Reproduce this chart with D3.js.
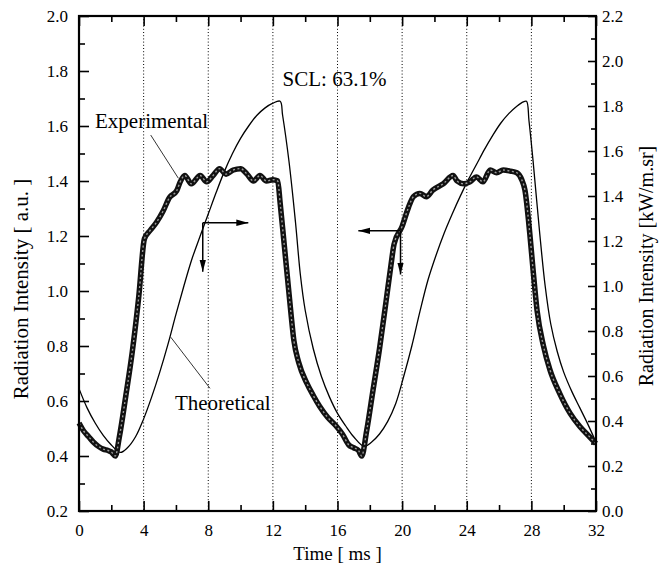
<!DOCTYPE html>
<html>
<head>
<meta charset="utf-8">
<script src="https://cdn.jsdelivr.net/npm/d3@7"></script>
<style>
  body { margin: 0; background: #fff; }
  svg { font-family: "Liberation Serif", "Times New Roman", serif; }
</style>
</head>
<body>
<svg id="chart"></svg>
<script>
// experimental signal (left axis, a.u.)
const expTime = [0, 0.3, 0.6, 0.9, 1.2, 1.5, 1.8, 2.0, 2.25, 2.5, 2.9, 3.3, 3.7, 4.05, 4.4, 4.8, 5.2, 5.6, 6.05, 6.25, 6.55, 6.95,
  7.5, 7.9, 8.3, 8.7, 9.1, 9.55, 10.0, 10.4, 10.8, 11.2, 11.6, 12.0, 12.3, 12.45, 12.7, 12.9, 13.1, 13.3, 13.6, 14.1, 14.5,
  14.9, 15.4, 15.9, 16.3, 16.7, 17.0, 17.3, 17.5, 17.8, 18.2, 18.6, 19.0, 19.3, 19.5, 20.0, 20.4, 20.7, 21.1, 21.5, 21.9,
  22.55, 23.15, 23.4, 23.8, 24.2, 24.6, 25.0, 25.45, 25.85, 26.25, 26.7, 27.1, 27.4, 27.6, 27.9, 28.1, 28.35, 28.75, 29.15,
  29.75, 30.4, 31.0, 31.6, 32.0];
const expValue = [0.52, 0.49, 0.47, 0.45, 0.435, 0.425, 0.42, 0.415, 0.40, 0.47, 0.62, 0.78, 0.98, 1.19, 1.22, 1.25, 1.29, 1.34, 1.365, 1.395, 1.42, 1.39,
  1.42, 1.397, 1.42, 1.445, 1.425, 1.44, 1.445, 1.425, 1.40, 1.42, 1.40, 1.405, 1.40, 1.32, 1.17, 1.05, 0.93, 0.82, 0.74, 0.665, 0.62,
  0.58, 0.54, 0.51, 0.48, 0.44, 0.43, 0.42, 0.40, 0.49, 0.64, 0.79, 0.96, 1.09, 1.17, 1.235, 1.305, 1.343, 1.355, 1.343, 1.367,
  1.39, 1.42, 1.40, 1.39, 1.397, 1.415, 1.397, 1.44, 1.43, 1.44, 1.436, 1.43, 1.405, 1.367, 1.21, 1.08, 0.93, 0.80, 0.713,
  0.628, 0.555, 0.507, 0.47, 0.445];

// theoretical signal (drawn on the same frame)
const theoTime = [0, 0.5, 1.0, 1.5, 2.0, 2.55, 3.0, 3.5, 4.0, 4.5, 5.0, 5.5, 6.0, 6.5, 7.0, 7.5, 8.0, 8.5, 9.0, 9.5, 10.0,
  10.5, 11.0, 11.5, 12.0, 12.45, 12.6, 13.0, 13.4, 13.7, 14.0, 14.5, 15.0, 15.5, 16.0, 16.5, 17.0, 17.65,
  18.1, 18.6, 19.1, 19.6, 20.1, 20.6, 21.1, 21.6, 22.1, 22.6, 23.1, 23.6, 24.1, 24.6, 25.1, 25.6, 26.1, 26.6, 27.1,
  27.5, 27.7, 27.85, 28.1, 28.5, 28.85, 29.2, 29.6, 30.0, 30.5, 31.0, 31.5, 32.0];
const theoValue = [0.645, 0.575, 0.52, 0.475, 0.44, 0.413, 0.43, 0.47, 0.535, 0.615, 0.705, 0.805, 0.915, 1.02, 1.118, 1.20, 1.28,
  1.36, 1.435, 1.50, 1.555, 1.60, 1.638, 1.665, 1.683, 1.69, 1.64, 1.47, 1.25, 1.06, 0.93, 0.79, 0.69, 0.615, 0.555, 0.51, 0.47, 0.435,
  0.45, 0.48, 0.525, 0.59, 0.69, 0.80, 0.925, 1.04, 1.13, 1.21, 1.28, 1.345, 1.405, 1.46, 1.515, 1.565, 1.61, 1.645, 1.672,
  1.688, 1.69, 1.62, 1.476, 1.22, 1.02, 0.88, 0.78, 0.705, 0.635, 0.575, 0.515, 0.45];

const xMajor = [0, 4, 8, 12, 16, 20, 24, 28, 32];
const xMinor = [2, 6, 10, 14, 18, 22, 26, 30];
const gridTimes = [4, 8, 12, 16, 20, 24, 28];
const leftMajor = [0.2, 0.4, 0.6, 0.8, 1.0, 1.2, 1.4, 1.6, 1.8, 2.0];
const leftMinor = [0.3, 0.5, 0.7, 0.9, 1.1, 1.3, 1.5, 1.7, 1.9];
const rightMajor = [0.0, 0.2, 0.4, 0.6, 0.8, 1.0, 1.2, 1.4, 1.6, 1.8, 2.0, 2.2];
const rightMinor = [0.1, 0.3, 0.5, 0.7, 0.9, 1.1, 1.3, 1.5, 1.7, 1.9, 2.1];

// labels and arrows, placed in data units (time, left-axis value)
const labels = [
  { text: 'Experimental', t: 0.99, v: 1.594 },
  { text: 'Theoretical', t: 5.94, v: 0.567 },
  { text: 'SCL: 63.1%', t: 12.6, v: 1.745 }
];
const leaders = [
  { t1: 4.44, v1: 1.567, t2: 6.15, v2: 1.41 },
  { t1: 5.68, v1: 0.832, t2: 8.11, v2: 0.646 }
];
const arrows = [
  { t: 7.66, v: 1.248, tEnd: 10.48, vEnd: 1.07 },
  { t: 19.9, v: 1.219, tEnd: 17.29, vEnd: 1.06 }
];

const width = 660, height = 572;
const margin = { top: 16, right: 64, bottom: 61, left: 79 };
const innerW = width - margin.left - margin.right;
const innerH = height - margin.top - margin.bottom;

const svg = d3.select('#chart').attr('width', width).attr('height', height);
svg.append('rect').attr('width', width).attr('height', height).attr('fill', '#fff');

svg.append('defs').append('marker')
  .attr('id', 'head')
  .attr('viewBox', '0 0 12 8')
  .attr('refX', 12).attr('refY', 4)
  .attr('markerWidth', 12).attr('markerHeight', 8)
  .attr('markerUnits', 'userSpaceOnUse')
  .attr('orient', 'auto')
  .append('path').attr('d', 'M0,0.8 L12,4 L0,7.2 Z').attr('fill', '#000');

const g = svg.append('g').attr('transform', `translate(${margin.left},${margin.top})`);

const x = d3.scaleLinear().domain([0, 32]).range([0, innerW]);
const yL = d3.scaleLinear().domain([0.2, 2.0]).range([innerH, 0]);
const yR = d3.scaleLinear().domain([0, 2.2]).range([innerH, 0]);

// dotted grid
g.selectAll('.grid').data(gridTimes).join('line')
  .attr('x1', d => x(d)).attr('x2', d => x(d))
  .attr('y1', 0).attr('y2', innerH)
  .attr('stroke', '#000').attr('stroke-width', 1)
  .attr('stroke-dasharray', '1,2.2');

function addAxis(axis, transform, fontSize) {
  const a = g.append('g').attr('transform', transform).call(axis);
  a.select('.domain').remove();
  a.selectAll('line').attr('stroke', '#000').attr('stroke-width', 1.6);
  a.selectAll('text').attr('fill', '#000').style('font-size', fontSize + 'px')
    .style('font-family', '"Liberation Serif", "Times New Roman", serif');
  return a;
}

const fmt = d3.format('.1f');
addAxis(d3.axisBottom(x).tickValues(xMajor).tickSizeInner(-10).tickSizeOuter(0).tickPadding(13).tickFormat(d3.format('d')),
  `translate(0,${innerH})`, 17);
addAxis(d3.axisBottom(x).tickValues(xMinor).tickSizeInner(-6).tickSizeOuter(0).tickFormat(''), `translate(0,${innerH})`, 17);
addAxis(d3.axisTop(x).tickValues(xMajor).tickSizeInner(-10).tickSizeOuter(0).tickFormat(''), 'translate(0,0)', 17);
addAxis(d3.axisTop(x).tickValues(xMinor).tickSizeInner(-6).tickSizeOuter(0).tickFormat(''), 'translate(0,0)', 17);
addAxis(d3.axisLeft(yL).tickValues(leftMajor).tickSizeInner(-10).tickSizeOuter(0).tickPadding(11).tickFormat(fmt), 'translate(0,0)', 17);
addAxis(d3.axisLeft(yL).tickValues(leftMinor).tickSizeInner(-6).tickSizeOuter(0).tickFormat(''), 'translate(0,0)', 17);
addAxis(d3.axisRight(yR).tickValues(rightMajor).tickSizeInner(-8).tickSizeOuter(0).tickPadding(6).tickFormat(fmt), `translate(${innerW},0)`, 17);
addAxis(d3.axisRight(yR).tickValues(rightMinor).tickSizeInner(-5).tickSizeOuter(0).tickFormat(''), `translate(${innerW},0)`, 17);

// curves
const lineExp = d3.line().x((d, i) => x(expTime[i])).y(d => yL(d)).curve(d3.curveMonotoneX);
const lineTheo = d3.line().x((d, i) => x(theoTime[i])).y(d => yL(d)).curve(d3.curveCatmullRom.alpha(0.5));

g.append('path').datum(theoValue).attr('d', lineTheo)
  .attr('fill', 'none').attr('stroke', '#000').attr('stroke-width', 1.3);

g.append('path').datum(expValue).attr('d', lineExp)
  .attr('fill', 'none').attr('stroke', '#111').attr('stroke-width', 5.5).attr('stroke-linejoin', 'round');
g.append('path').datum(expValue).attr('d', lineExp)
  .attr('fill', 'none').attr('stroke', '#9a9a9a').attr('stroke-width', 1.4).attr('stroke-dasharray', '2,2.5');

// frame
g.append('rect').attr('width', innerW).attr('height', innerH)
  .attr('fill', 'none').attr('stroke', '#000').attr('stroke-width', 2.2);

// annotations
g.selectAll('.leader').data(leaders).join('line')
  .attr('x1', d => x(d.t1)).attr('y1', d => yL(d.v1))
  .attr('x2', d => x(d.t2)).attr('y2', d => yL(d.v2))
  .attr('stroke', '#000').attr('stroke-width', 0.8);

arrows.forEach(d => {
  g.append('line')
    .attr('x1', x(d.t)).attr('y1', yL(d.v)).attr('x2', x(d.tEnd)).attr('y2', yL(d.v))
    .attr('stroke', '#000').attr('stroke-width', 1.5).attr('marker-end', 'url(#head)');
  g.append('line')
    .attr('x1', x(d.t)).attr('y1', yL(d.v)).attr('x2', x(d.t)).attr('y2', yL(d.vEnd))
    .attr('stroke', '#000').attr('stroke-width', 1.5).attr('marker-end', 'url(#head)');
});

g.selectAll('.note').data(labels).join('text')
  .attr('x', d => x(d.t)).attr('y', d => yL(d.v))
  .style('font-size', '21px').attr('fill', '#000')
  .text(d => d.text);

// axis titles
svg.append('text')
  .attr('x', margin.left + innerW / 2).attr('y', 560)
  .attr('text-anchor', 'middle').style('font-size', '19px')
  .text('Time [ ms ]');

svg.append('text')
  .attr('transform', 'translate(27.5,289) rotate(-90)')
  .attr('text-anchor', 'middle').style('font-size', '21px')
  .text('Radiation Intensity [ a.u. ]');

svg.append('text')
  .attr('transform', 'translate(653,266) rotate(-90)')
  .attr('text-anchor', 'middle').style('font-size', '20px')
  .text('Radiation Intensity [kW/m.sr]');
</script>
</body>
</html>
